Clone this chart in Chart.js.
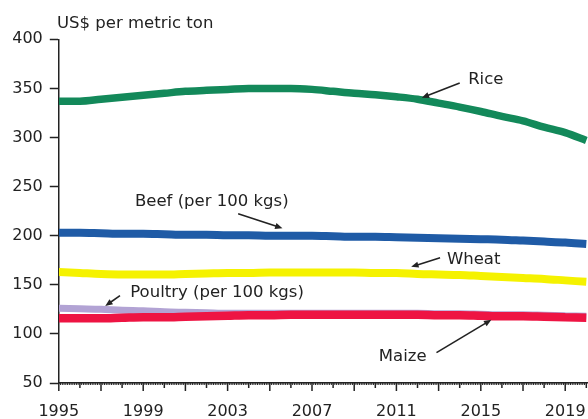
<!DOCTYPE html>
<html lang="en">
<head>
    <meta charset="UTF-8">
    <title>US$ per metric ton</title>
    <script src="https://cdn.jsdelivr.net/npm/chart.js"></script>
    <style>
        body {
            margin: 0;
            padding: 0;
            background: #fff;
        }
        canvas {
            display: block;
        }
    </style>
</head>
<body>
    <canvas id="priceChart" width="588" height="419"></canvas>

    <script>
        // Dados
        const years = [1995, 1996, 1997, 1998, 1999, 2000, 2001, 2002, 2003, 2004, 2005, 2006, 2007,
                       2008, 2009, 2010, 2011, 2012, 2013, 2014, 2015, 2016, 2017, 2018, 2019, 2020];
        const rice    = [337, 337, 339, 341, 343, 345, 347, 348, 349, 350, 350, 350, 349,
                         347, 345, 343.5, 341.5, 339, 335, 331, 326.5, 321.5, 317, 310.5, 305, 297];
        const beef    = [203, 203, 202.5, 202, 202, 201.5, 201, 201, 200.5, 200.5, 200, 200, 200,
                         199.5, 199, 199, 198.5, 198, 197.5, 197, 196.5, 196, 195, 194, 193, 191.5];
        const wheat   = [163, 162, 161, 160.5, 160.5, 160.5, 161, 161.5, 162, 162, 162.5, 162.5, 162.5,
                         162.5, 162.5, 162, 162, 161, 160.5, 160, 159, 158, 157, 156, 154.5, 153];
        const poultry = [126, 125.5, 125, 124, 123.5, 122.5, 122, 121.5, 121, 121, 121, 121, 121,
                         121, 121, 121, 121, 121, 120.5, 120.5, 120, 119.5, 119.5, 119, 118.5, 118];
        const maize   = [116, 116, 116, 116.5, 117, 117, 117.5, 118, 118.5, 119, 119, 119.5, 119.5,
                         119.5, 119.5, 119.5, 119.5, 119.5, 119, 119, 118.5, 118, 118, 117.5, 117, 116.5];

        const yTicks = [50, 100, 150, 200, 250, 300, 350, 400];
        const xLabelYears = [1995, 1999, 2003, 2007, 2011, 2015, 2019];
        const unitLabel = 'US$ per metric ton';

        // Rótulos e setas, em coordenadas de dados
        const notes = [
            { text: 'Rice', x: 2014.4, y: 358.6, align: 'left', from: [2014.0, 355.5], to: [2012.2, 340.5] },
            { text: 'Beef (per 100 kgs)', x: 2002.25, y: 234.8, align: 'center', from: [2003.5, 222.3], to: [2005.6, 207.5] },
            { text: 'Wheat', x: 2014.66, y: 175.5, align: 'center', from: [2013.07, 177.5], to: [2011.7, 168.3] },
            { text: 'Poultry (per 100 kgs)', x: 2002.5, y: 141.6, align: 'center', from: [1997.9, 138.9], to: [1997.2, 128.5] },
            { text: 'Maize', x: 2011.3, y: 77.1, align: 'center', from: [2012.9, 80.9], to: [2015.5, 114.4] }
        ];

        Chart.defaults.font.family = 'DejaVu Sans';
        Chart.defaults.color = '#222';

        function toPoints(values) {
            return values.map((v, i) => ({ x: years[i], y: v }));
        }

        function series(label, values, color, width, order) {
            return {
                label: label,
                data: toPoints(values),
                borderColor: color,
                backgroundColor: color,
                borderWidth: width,
                pointRadius: 0,
                cubicInterpolationMode: 'monotone',
                order: order
            };
        }

        const extrasPlugin = {
            id: 'extras',
            afterDraw(chart) {
                const ctx = chart.ctx;
                const xs = chart.scales.x;
                const ys = chart.scales.y;
                const bottom = chart.chartArea.bottom;

                // marcas do eixo x: anos ímpares longas, pares curtas, meses pequenas
                ctx.save();
                ctx.strokeStyle = '#222';
                for (let m = 0; m <= (2020 - 1995) * 12; m++) {
                    const t = 1995 + m / 12;
                    if (t > xs.max) break;
                    const px = xs.getPixelForValue(t);
                    let len = 2, w = 1;
                    if (m % 12 === 0) {
                        const yr = 1995 + m / 12;
                        len = yr % 2 === 1 ? 8 : 5;
                        w = 1.5;
                    }
                    ctx.lineWidth = w;
                    ctx.beginPath();
                    ctx.moveTo(px, bottom);
                    ctx.lineTo(px, bottom + len);
                    ctx.stroke();
                }

                // título do eixo
                ctx.fillStyle = '#222';
                ctx.font = '16.5px "DejaVu Sans"';
                ctx.textAlign = 'left';
                ctx.textBaseline = 'middle';
                ctx.fillText(unitLabel, 57, 24);

                // anotações
                notes.forEach(n => {
                    ctx.textAlign = n.align;
                    ctx.fillText(n.text, xs.getPixelForValue(n.x), ys.getPixelForValue(n.y));

                    const x1 = xs.getPixelForValue(n.from[0]);
                    const y1 = ys.getPixelForValue(n.from[1]);
                    const x2 = xs.getPixelForValue(n.to[0]);
                    const y2 = ys.getPixelForValue(n.to[1]);
                    const ang = Math.atan2(y2 - y1, x2 - x1);
                    const head = 8;
                    ctx.lineWidth = 1.6;
                    ctx.beginPath();
                    ctx.moveTo(x1, y1);
                    ctx.lineTo(x2 - Math.cos(ang) * head * 0.7, y2 - Math.sin(ang) * head * 0.7);
                    ctx.stroke();
                    ctx.beginPath();
                    ctx.moveTo(x2, y2);
                    ctx.lineTo(x2 - head * Math.cos(ang - 0.4), y2 - head * Math.sin(ang - 0.4));
                    ctx.lineTo(x2 - head * Math.cos(ang + 0.4), y2 - head * Math.sin(ang + 0.4));
                    ctx.closePath();
                    ctx.fill();
                });
                ctx.restore();
            }
        };

        new Chart(document.getElementById('priceChart'), {
            type: 'line',
            data: {
                datasets: [
                    series('Rice', rice, '#13895a', 7.5, 1),
                    series('Beef (per 100 kgs)', beef, '#1f5ba6', 8, 2),
                    series('Wheat', wheat, '#f5f200', 8, 3),
                    series('Maize', maize, '#ee1443', 8.5, 4),
                    series('Poultry (per 100 kgs)', poultry, '#b2a3d4', 7, 5)
                ]
            },
            options: {
                responsive: false,
                animation: false,
                layout: {
                    padding: { top: 39.3, right: 0, bottom: 0, left: 0 }
                },
                plugins: {
                    legend: { display: false },
                    tooltip: { enabled: false }
                },
                scales: {
                    x: {
                        type: 'linear',
                        min: 1995,
                        max: 2020.08,
                        afterFit: s => {
                            s.height = 36;
                            s.paddingLeft = 0;
                            s.paddingRight = 0;
                        },
                        border: { display: true, color: '#222', width: 1.5 },
                        grid: {
                            drawOnChartArea: false,
                            tickLength: 8,
                            tickColor: 'rgba(0,0,0,0)'
                        },
                        ticks: {
                            stepSize: 1,
                            autoSkip: false,
                            maxRotation: 0,
                            includeBounds: false,
                            padding: 11,
                            font: { size: 16 },
                            callback: v => xLabelYears.includes(v) ? String(v) : ''
                        }
                    },
                    y: {
                        min: yTicks[0],
                        max: yTicks[yTicks.length - 1],
                        afterFit: s => {
                            s.width = 58.8;
                            s.paddingTop = 0;
                            s.paddingBottom = 0;
                        },
                        border: { display: true, color: '#222', width: 1.5 },
                        grid: {
                            drawOnChartArea: false,
                            tickLength: 9,
                            tickColor: '#222',
                            tickWidth: 1.5
                        },
                        ticks: {
                            stepSize: 50,
                            padding: 7,
                            font: { size: 16 },
                            callback: v => yTicks.includes(v) ? String(v) : ''
                        }
                    }
                }
            },
            plugins: [extrasPlugin]
        });
    </script>
</body>
</html>
